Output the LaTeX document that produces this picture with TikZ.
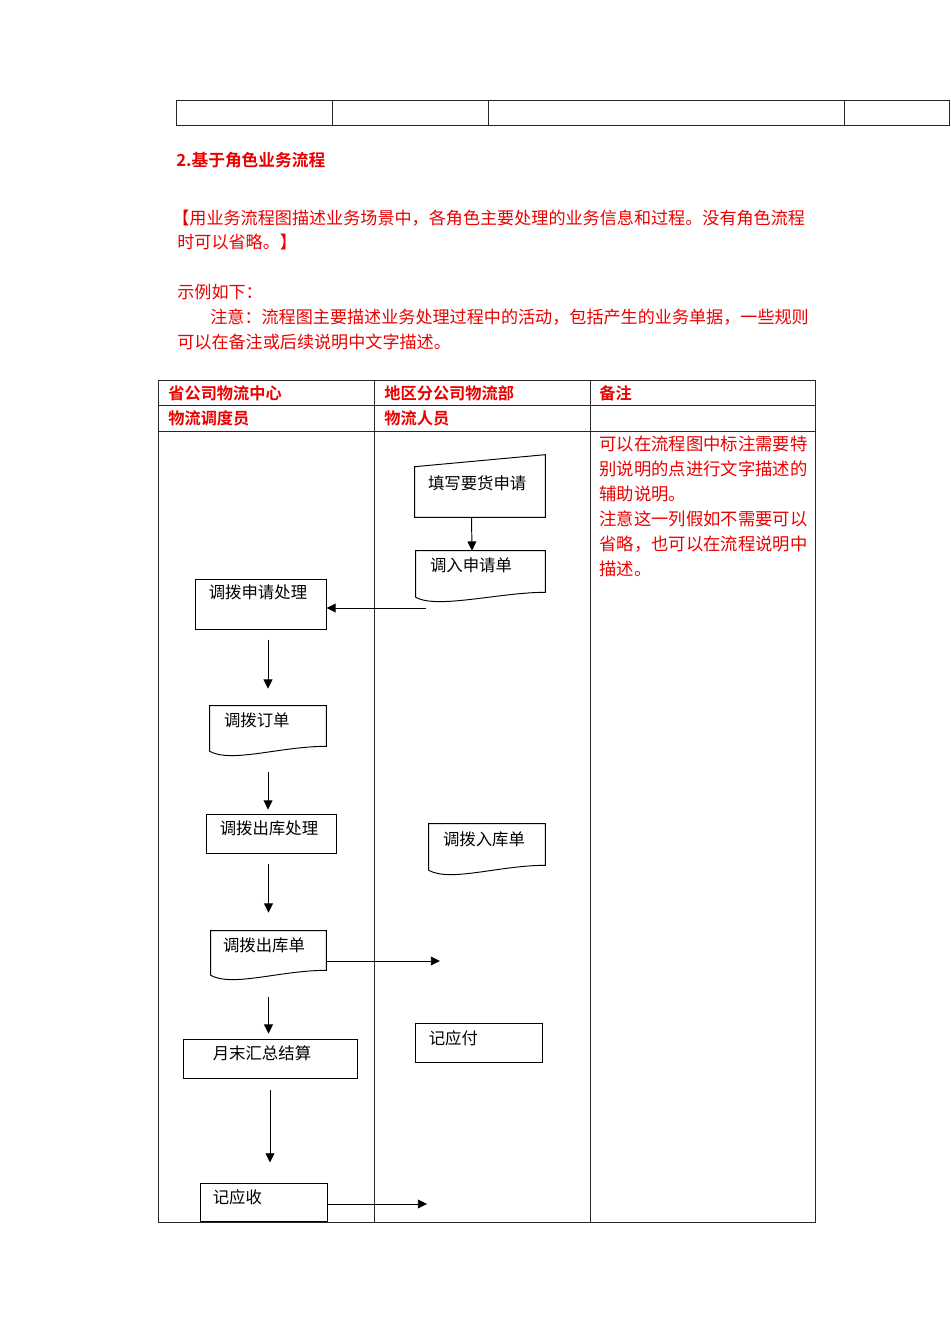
\documentclass[tikz,border=0pt]{standalone}
\usepackage{fontspec}
\setmainfont{Noto Sans CJK SC}[BoldFont={Noto Sans CJK SC Bold}]
\usetikzlibrary{arrows.meta,positioning}
\newlength\pxl \setlength\pxl{0.0221cm}
\definecolor{notered}{RGB}{235,0,0}
\tikzset{
  tbl/.style={draw=black!85, line width=0.6pt},
  procbox/.style={draw, line width=0.6pt, inner sep=0pt},
  docbox/.style={inner sep=0pt},
  lbl/.style={anchor=west, inner sep=0pt, font=\fontsize{10.3pt}{12pt}\selectfont},
  hdr/.style={anchor=west, inner sep=0pt, text=notered, font=\bfseries\fontsize{10.2pt}{12pt}\selectfont},
  note/.style={anchor=west, inner sep=0pt, text=notered, font=\fontsize{10.75pt}{13pt}\selectfont},
  arr/.style={-{Triangle[length=5.8pt,width=5.6pt]}, line width=0.6pt}
}
\newcommand\docpath[1]{\draw[line width=0.6pt] (#1.south west) ++(0,5) coordinate (#1-lb) -- (#1.north west) -- (#1.north east) -- (#1.south east) .. controls +(-46,0) and +(22,12) .. (#1-lb);}
\newcommand\manpath[1]{\draw[line width=0.6pt] (#1.south west) -- ([yshift=-12\pxl]#1.north west) -- (#1.north east) -- (#1.south east) -- cycle;}
\begin{document}
\begin{tikzpicture}[x=0.0221cm,y=-0.0221cm]
\useasboundingbox (0,0) rectangle (950,1344);
% top table stub
\draw[tbl] (176,100) rectangle (949,125);
\foreach \x in {332,488,844} \draw[tbl] (\x,100) -- (\x,125);
% text above
\node[hdr, font=\bfseries\fontsize{10.5pt}{12pt}\selectfont] (title) at (176,160) {2.基于角色业务流程};
\node[note] (t1) at (172,218) {【用业务流程图描述业务场景中，各角色主要处理的业务信息和过程。没有角色流程};
\node[note] (t2) at (177,242) {时可以省略。】};
\node[note] (t3) at (177,292) {示例如下：};
\node[note] (t4) at (210,317) {注意：流程图主要描述业务处理过程中的活动，包括产生的业务单据，一些规则};
\node[note] (t5) at (177,342) {可以在备注或后续说明中文字描述。};
% swimlane table
\draw[tbl] (158,380) rectangle (815,1222);
\draw[tbl] (374,380) -- (374,1222);
\draw[tbl] (590,380) -- (590,1222);
\draw[tbl] (158,405) -- (815,405);
\draw[tbl] (158,431) -- (815,431);
\node[hdr] (h1) at (168,393) {省公司物流中心};
\node[hdr] (h2) at (384,393) {地区分公司物流部};
\node[hdr] (h3) at (599,393) {备注};
\node[hdr] (r1) at (168,418) {物流调度员};
\node[hdr] (r2) at (384,418) {物流人员};
\node[note, font=\fontsize{10.9pt}{13pt}\selectfont] (n1) at (599,444) {可以在流程图中标注需要特};
\node[note, font=\fontsize{10.9pt}{13pt}\selectfont] (n2) at (599,469) {别说明的点进行文字描述的};
\node[note, font=\fontsize{10.9pt}{13pt}\selectfont] (n3) at (599,494) {辅助说明。};
\node[note, font=\fontsize{10.9pt}{13pt}\selectfont] (n4) at (599,519) {注意这一列假如不需要可以};
\node[note, font=\fontsize{10.9pt}{13pt}\selectfont] (n5) at (599,544) {省略，也可以在流程说明中};
\node[note, font=\fontsize{10.9pt}{13pt}\selectfont] (n6) at (599,569) {描述。};
% flow shapes
\node[docbox, minimum width=130\pxl, minimum height=62\pxl] (m1) at (480,486) {};
\manpath{m1}
\node[lbl] at ([shift={(13,29)}]m1.north west) {填写要货申请};
\node[docbox, minimum width=129\pxl, minimum height=41\pxl] (d1) at (480.5,571.5) {};
\docpath{d1}
\node[lbl] at ([shift={(14,15)}]d1.north west) {调入申请单};
\node[procbox, minimum width=131\pxl, minimum height=50\pxl] (p1) at (260.5,604) {};
\node[lbl] at ([shift={(14,14)}]p1.north west) {调拨申请处理};
\node[docbox, minimum width=116\pxl, minimum height=40\pxl] (d2) at (268,726) {};
\docpath{d2}
\node[lbl] at ([shift={(14,15)}]d2.north west) {调拨订单};
\node[procbox, minimum width=130\pxl, minimum height=39\pxl] (p2) at (271,833.5) {};
\node[lbl] at ([shift={(14,15)}]p2.north west) {调拨出库处理};
\node[docbox, minimum width=115\pxl, minimum height=39\pxl] (d3) at (268.5,950.5) {};
\docpath{d3}
\node[lbl] at ([shift={(12,15)}]d3.north west) {调拨出库单};
\node[docbox, minimum width=116\pxl, minimum height=41\pxl] (d4) at (487,844.5) {};
\docpath{d4}
\node[lbl] at ([shift={(14,16)}]d4.north west) {调拨入库单};
\node[procbox, minimum width=174\pxl, minimum height=39\pxl] (p3) at (270,1058.5) {};
\node[lbl] at ([shift={(30,15)}]p3.north west) {月末汇总结算};
\node[procbox, minimum width=127\pxl, minimum height=38\pxl] (p4) at (263.5,1202) {};
\node[lbl] at ([shift={(13,15)}]p4.north west) {记应收};
\node[procbox, minimum width=127\pxl, minimum height=39\pxl] (p5) at (478.5,1042.5) {};
\node[lbl] at ([shift={(14,16)}]p5.north west) {记应付};
% connectors
\coordinate (q1) at (426,608);
\coordinate (q2) at (440,961);
\coordinate (q3) at (427,1204);
\draw[arr] ([xshift=-8.5\pxl]m1.south) -- ([xshift=-8.5\pxl]d1.north);
\draw[arr] (q1) -- (q1 -| p1.east);
\draw[arr, shorten <=6.3pt, shorten >=10.7pt] (d2.north |- p1.south) -- (d2.north);
\draw[arr, shorten <=16.4pt, shorten >=2.5pt] (d2.south) -- (d2.south |- p2.north);
\draw[arr, shorten <=6.9pt, shorten >=11.3pt] (d3.north |- p2.south) -- (d3.north);
\draw[arr, shorten <=17pt, shorten >=3.1pt] (d3.south) -- (d3.south |- p3.north);
\draw[arr, shorten <=7.5pt, shorten >=12.6pt] (p3.south) -- (p3.south |- p4.north);
\draw[arr] (q2 -| d3.east) -- (q2);
\draw[arr] (q3 -| p4.east) -- (q3);
\end{tikzpicture}
\end{document}
